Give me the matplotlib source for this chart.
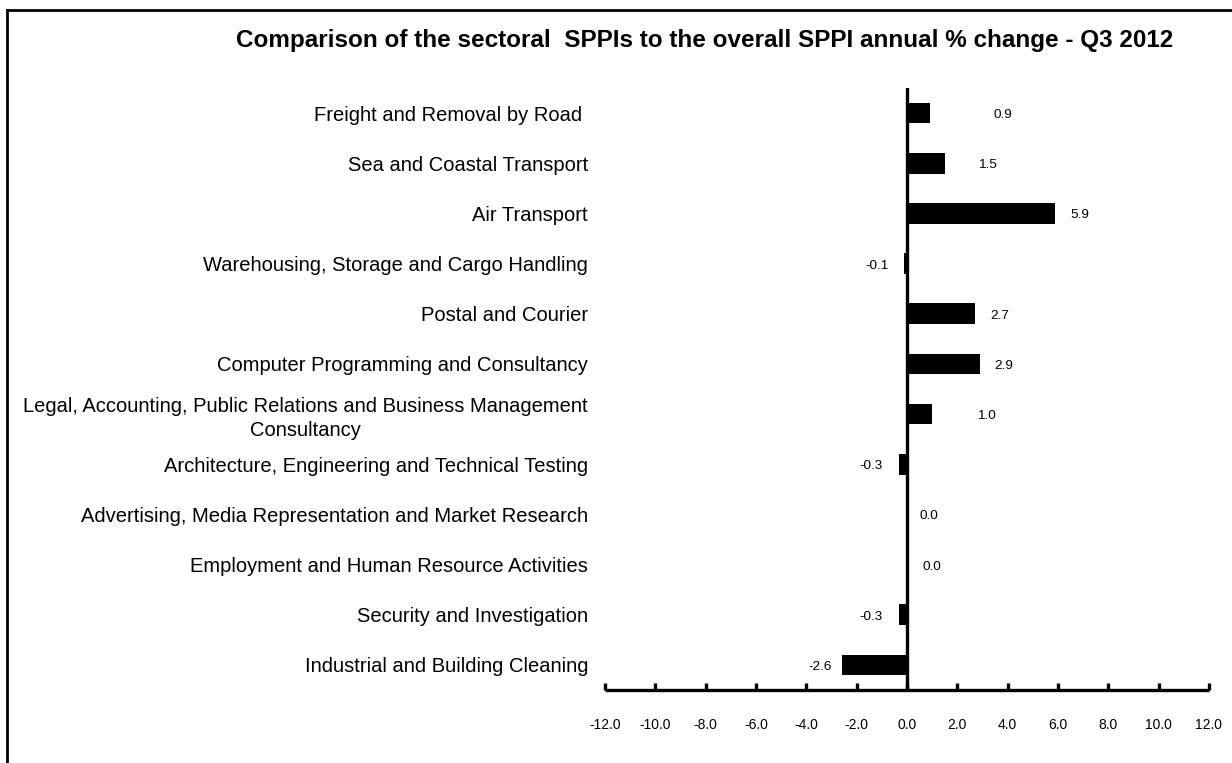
import matplotlib
matplotlib.use("Agg")
import matplotlib.pyplot as plt
from matplotlib.lines import Line2D

plt.rcParams['font.family'] = ['Liberation Sans', 'DejaVu Sans']
plt.rcParams['axes.unicode_minus'] = False

title = "Comparison of the sectoral  SPPIs to the overall SPPI annual % change - Q3 2012"
categories = [
    "Freight and Removal by Road ",
    "Sea and Coastal Transport",
    "Air Transport",
    "Warehousing, Storage and Cargo Handling",
    "Postal and Courier",
    "Computer Programming and Consultancy",
    "Legal, Accounting, Public Relations and Business Management\nConsultancy",
    "Architecture, Engineering and Technical Testing",
    "Advertising, Media Representation and Market Research",
    "Employment and Human Resource Activities",
    "Security and Investigation",
    "Industrial and Building Cleaning",
]
values = [0.9, 1.5, 5.9, -0.1, 2.7, 2.9, 1.0, -0.3, 0.0, 0.0, -0.3, -2.6]
x_ticks = [-12, -10, -8, -6, -4, -2, 0, 2, 4, 6, 8, 10, 12]

# label placement (data units along x)
label_x = [3.81, 3.18, 6.87, -1.19, 3.69, 3.85, 3.14, -1.43, 0.87, 1.0, -1.43, -3.46]

W, H = 1232, 763
fig = plt.figure(figsize=(W / 100, H / 100), dpi=100)
ax = fig.add_axes([605 / W, 1 - 690 / H, (1209 - 605) / W, (690 - 88) / H])

ypos = list(range(len(categories)))
ax.barh(ypos, values, height=0.41, color='black', zorder=2)
ax.set_ylim(len(categories) - 0.5, -0.5)
ax.set_xlim(x_ticks[0], x_ticks[-1])
ax.axvline(0, color='black', lw=2.4, zorder=3)

for y, v, lx in zip(ypos, values, label_x):
    ax.text(lx, y + 0.04, f"{v:.1f}", ha='center', va='center', fontsize=9.7)

for s in ['top', 'right', 'left']:
    ax.spines[s].set_visible(False)
ax.spines['bottom'].set_linewidth(2.4)
ax.spines['bottom'].set_capstyle('butt')

ax.set_yticks(ypos)
ax.set_yticklabels(categories)
ax.tick_params(axis='y', length=0, pad=12.2, labelsize=14.5)
for t in ax.get_yticklabels():
    t.set_multialignment('center')
    t.set_linespacing(1.35)

ax.set_xticks(x_ticks)
ax.set_xticklabels([f"{t:.1f}" for t in x_ticks])
ax.tick_params(axis='x', direction='in', length=5, width=2.4, pad=20, labelsize=10)

fig.text(705 / W, 1 - 40 / H, title, ha='center', va='center',
         fontsize=17.5, fontweight='bold')

# outer frame (top and left edges visible)
bx, by = 6.7 / W, 1 - 10 / H
fig.add_artist(Line2D([bx, bx], [by, -0.01], color='black', lw=2.0, transform=fig.transFigure))
fig.add_artist(Line2D([bx, 1.01], [by, by], color='black', lw=2.0, transform=fig.transFigure))

fig.savefig("out.png", dpi=100)
